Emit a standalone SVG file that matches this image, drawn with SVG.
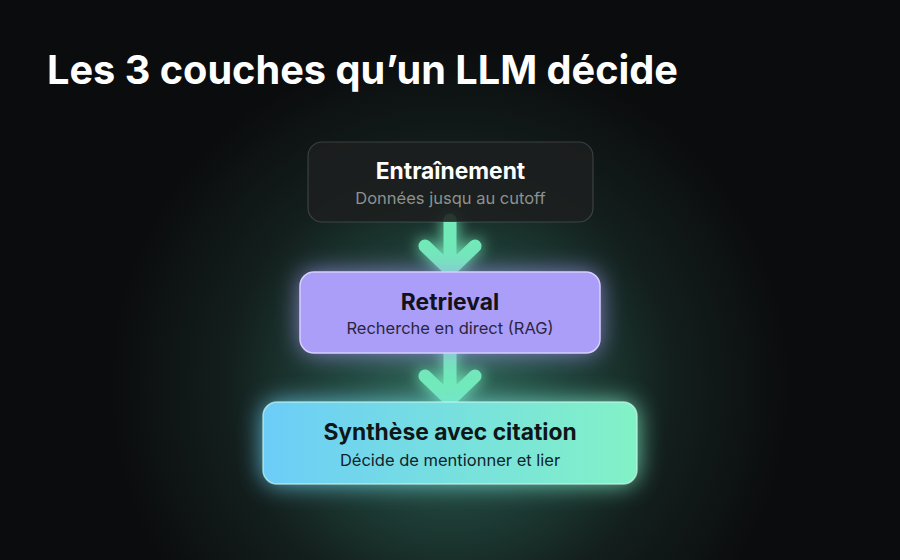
<svg xmlns="http://www.w3.org/2000/svg" width="900" height="560" viewBox="0 0 900 560">
<defs>
<radialGradient id="bgGlow" cx="450" cy="385" r="340" gradientUnits="userSpaceOnUse">
<stop offset="0" stop-color="#31695a"/>
<stop offset="0.3" stop-color="#21473e"/>
<stop offset="0.65" stop-color="#131f1d"/>
<stop offset="1" stop-color="#0b0c0d"/>
</radialGradient>
<linearGradient id="synth" x1="0" y1="0" x2="1" y2="0">
<stop offset="0" stop-color="#6ccdf8"/>
<stop offset="1" stop-color="#82f2c6"/>
</linearGradient>
<filter id="glow" filterUnits="userSpaceOnUse" x="380" y="190" width="140" height="250">
<feGaussianBlur in="SourceGraphic" stdDeviation="8" result="b"/>
<feMerge><feMergeNode in="b"/><feMergeNode in="SourceGraphic"/></feMerge>
</filter>
<filter id="blur" x="-50%" y="-80%" width="200%" height="260%">
<feGaussianBlur stdDeviation="12"/>
</filter>
</defs>
<style>
.title{font-family:Inter,"Liberation Sans",sans-serif;font-weight:700;font-size:39.7px;fill:#ffffff}
.h{font-family:Inter,"Liberation Sans",sans-serif;font-weight:700;font-size:22.8px;text-anchor:middle}
.s{font-family:Inter,"Liberation Sans",sans-serif;font-weight:400;font-size:16.5px;text-anchor:middle}
.arrow{fill:none;stroke:#72e9b9;stroke-width:13;stroke-linecap:round;stroke-linejoin:round}
</style>
<rect width="900" height="560" fill="#0b0c0d"/>
<rect width="900" height="560" fill="url(#bgGlow)"/>
<text class="title" x="47" y="84">Les 3 couches qu’un LLM décide</text>

<g id="connectors">
<g filter="url(#glow)">
<path class="arrow" d="M450 220 V268 M425 246 L450 270 L475 246"/>
<path class="arrow" d="M450 351 V398 M425 376 L450 400 L475 376"/>
</g>
</g>

<g id="node-entrainement">
<rect x="308" y="142" width="285" height="80" rx="14" fill="#1d1f1f" fill-opacity="0.88" stroke="#ffffff" stroke-opacity="0.16" stroke-width="1.2"/>
<text class="h" x="450.5" y="179" fill="#ffffff">Entraînement</text>
<text class="s" x="450.5" y="204" fill="#8d9190">Données jusqu au cutoff</text>
</g>

<g id="node-retrieval">
<rect x="300" y="272" width="300" height="81" rx="14" fill="#a99cf8" filter="url(#blur)" opacity="0.75"/>
<rect x="300" y="272" width="300" height="81" rx="14" fill="#ab9ef9" stroke="#d6cffd" stroke-width="1.5"/>
<text class="h" x="450" y="310" fill="#121218">Retrieval</text>
<text class="s" x="450" y="334" fill="#2a2640">Recherche en direct (RAG)</text>
</g>

<g id="node-synthese">
<rect x="263" y="402" width="374" height="82" rx="14" fill="url(#synth)" filter="url(#blur)" opacity="0.85"/>
<rect x="263" y="402" width="374" height="82" rx="14" fill="url(#synth)" stroke="#c8f6ea" stroke-opacity="0.7" stroke-width="1.5"/>
<text class="h" x="450" y="440" fill="#0f1618" font-size="24px">Synthèse avec citation</text>
<text class="s" x="450" y="466" fill="#12222a" font-size="16.7px">Décide de mentionner et lier</text>
</g>
</svg>
